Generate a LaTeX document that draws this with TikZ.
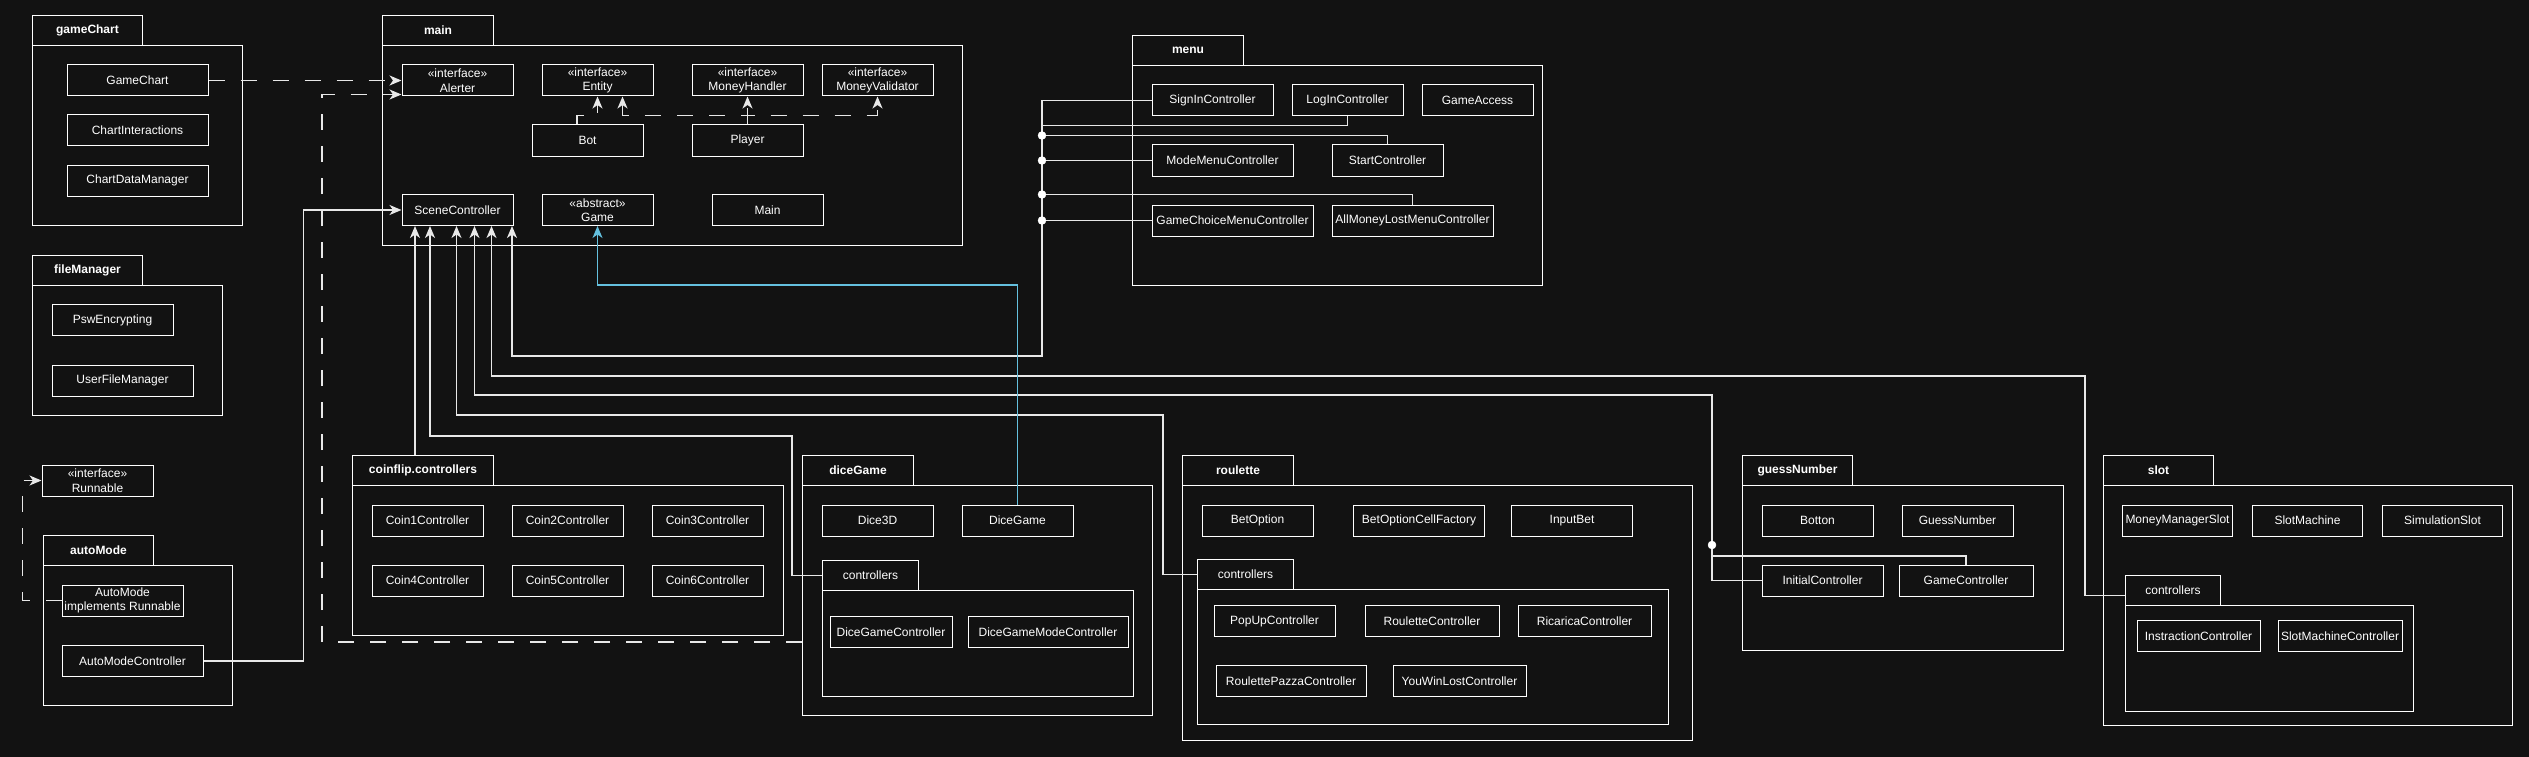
\documentclass[tikz,border=0pt]{standalone}
\usepackage{fontspec}
\setmainfont{Liberation Sans}
\usepackage{tikz}
\usepackage{color}
\usetikzlibrary{arrows.meta}

\definecolor{bgdark}{RGB}{18,18,18}
\definecolor{linegray}{RGB}{232,232,232}
\definecolor{linkblue}{RGB}{100,192,222}

\begin{document}
\begin{tikzpicture}[%
      x=1pt, y=-1pt,
      cls/.style={draw=white, fill=bgdark, text=white, line width=1pt, minimum width=111pt, minimum height=31pt, inner sep=0pt, align=center, font=\fontsize{12}{14.5}\selectfont},
      pkgtab/.style={draw=white, fill=bgdark, text=white, line width=1pt, minimum height=30pt, inner sep=0pt, anchor=north west, font=\bfseries\fontsize{12}{14}\selectfont},
      subtab/.style={pkgtab, font=\fontsize{12}{14}\selectfont},
      pkgbody/.style={draw=white, line width=1pt, inner sep=0pt, anchor=north west},
      conn/.style={color=linegray, line width=1.6pt},
      arr/.style={-{Stealth[length=12pt,width=10pt,inset=3.5pt]}},
      dep/.style={conn, arr, dash pattern=on 16pt off 16pt},
      ]
      \fill [color=bgdark] (0,0) rectangle (2529,757);

      \node [pkgbody, minimum width=210, minimum height=180] (gameChartBody) at (32,45) {};
      \node [pkgtab, minimum width=110] (gameChartTab) at (32,15) {gameChart};
      \node [pkgbody, minimum width=580, minimum height=200] (mainBody) at (382,45) {};
      \node [pkgtab, minimum width=111] (mainTab) at (382,15) {main};
      \node [pkgbody, minimum width=410, minimum height=220] (menuBody) at (1132,65) {};
      \node [pkgtab, minimum width=111] (menuTab) at (1132,35) {menu};
      \node [pkgbody, minimum width=190, minimum height=130] (fileBody) at (32,285) {};
      \node [pkgtab, minimum width=110] (fileTab) at (32,255) {fileManager};
      \node [pkgbody, minimum width=189, minimum height=140] (autoBody) at (43,565) {};
      \node [pkgtab, minimum width=110] (autoTab) at (43,535) {autoMode};
      \node [pkgbody, minimum width=431, minimum height=150] (coinBody) at (352,485) {};
      \node [pkgtab, minimum width=141] (coinTab) at (352,455) {coinflip.controllers};
      \node [pkgbody, minimum width=350, minimum height=230] (diceBody) at (802,485) {};
      \node [pkgtab, minimum width=111] (diceTab) at (802,455) {diceGame};
      \node [pkgbody, minimum width=311, minimum height=106] (diceCtrlBody) at (822,590) {};
      \node [subtab, minimum width=96] (diceCtrlTab) at (822,560) {controllers};
      \node [pkgbody, minimum width=510, minimum height=255] (rouBody) at (1182,485) {};
      \node [pkgtab, minimum width=111] (rouTab) at (1182,455) {roulette};
      \node [pkgbody, minimum width=471, minimum height=135] (rouCtrlBody) at (1197,589) {};
      \node [subtab, minimum width=96] (rouCtrlTab) at (1197,559) {controllers};
      \node [pkgbody, minimum width=321, minimum height=165] (guessBody) at (1742,485) {};
      \node [pkgtab, minimum width=110] (guessTab) at (1742,455) {guessNumber};
      \node [pkgbody, minimum width=409, minimum height=240] (slotBody) at (2103,485) {};
      \node [pkgtab, minimum width=110] (slotTab) at (2103,455) {slot};
      \node [pkgbody, minimum width=288, minimum height=106] (slotCtrlBody) at (2125,605) {};
      \node [subtab, minimum width=95] (slotCtrlTab) at (2125,575) {controllers};

      \node [cls, minimum width=141] (gameChartCls) at (137.5,80.5) {GameChart};
      \node [cls, minimum width=141] (chartInter) at (137.5,130.5) {ChartInteractions};
      \node [cls, minimum width=141] (chartData) at (137.5,180.5) {ChartDataManager};
      \node [cls, minimum width=121] (pswEnc) at (112.5,320) {PswEncrypting};
      \node [cls, minimum width=141] (userFile) at (122.5,380.5) {UserFileManager};

      \node [cls] (alerter) at (457.5,80.5) {«interface»\\Alerter};
      \node [cls] (entity) at (597.5,80.5) {«interface»\\Entity};
      \node [cls] (moneyHandler) at (747.5,80.5) {«interface»\\MoneyHandler};
      \node [cls] (moneyValidator) at (877.5,80.5) {«interface»\\MoneyValidator};
      \node [cls] (bot) at (587.5,140.5) {Bot};
      \node [cls] (player) at (747.5,140.5) {Player};
      \node [cls] (sceneCtrl) at (457.5,210) {SceneController};
      \node [cls] (game) at (597.5,210) {«abstract»\\Game};
      \node [cls] (mainCls) at (767.5,210) {Main};

      \node [cls, minimum width=121] (signIn) at (1212.5,100.5) {SignInController};
      \node [cls] (logIn) at (1347.5,100.5) {LogInController};
      \node [cls] (gameAccess) at (1477.5,100.5) {GameAccess};
      \node [cls, minimum width=141] (modeMenu) at (1222.5,160.5) {ModeMenuController};
      \node [cls] (startCtrl) at (1387.5,160.5) {StartController};
      \node [cls, minimum width=161] (gameChoice) at (1232.5,220.5) {GameChoiceMenuController};
      \node [cls, minimum width=161] (allMoney) at (1412.5,220.5) {AllMoneyLostMenuController};

      \node [cls] (runnable) at (97.5,480.5) {«interface»\\Runnable};
      \node [cls, minimum width=121] (autoModeCls) at (122.5,600.5) {AutoMode\\implements Runnable};
      \node [cls, minimum width=141] (autoModeCtrl) at (132.5,661) {AutoModeController};

      \node [cls] (coin1) at (427.5,520.5) {Coin1Controller};
      \node [cls] (coin2) at (567.5,520.5) {Coin2Controller};
      \node [cls] (coin3) at (707.5,520.5) {Coin3Controller};
      \node [cls] (coin4) at (427.5,580.5) {Coin4Controller};
      \node [cls] (coin5) at (567.5,580.5) {Coin5Controller};
      \node [cls] (coin6) at (707.5,580.5) {Coin6Controller};

      \node [cls] (dice3D) at (877.5,520.5) {Dice3D};
      \node [cls] (diceGameCls) at (1017.5,520.5) {DiceGame};
      \node [cls, minimum width=122] (diceCtrl) at (891,632) {DiceGameController};
      \node [cls, minimum width=160] (diceModeCtrl) at (1048,632) {DiceGameModeController};

      \node [cls] (betOption) at (1257.5,520.5) {BetOption};
      \node [cls, minimum width=131] (betCell) at (1419,520.5) {BetOptionCellFactory};
      \node [cls, minimum width=121] (inputBet) at (1572,520.5) {InputBet};
      \node [cls, minimum width=121] (popUp) at (1274.5,621) {PopUpController};
      \node [cls, minimum width=134] (rouletteCtrl) at (1432,621) {RouletteController};
      \node [cls, minimum width=133] (ricarica) at (1584.5,621) {RicaricaController};
      \node [cls, minimum width=150] (roulettePazza) at (1291,681) {RoulettePazzaController};
      \node [cls, minimum width=133] (youWin) at (1459.5,681) {YouWinLostController};

      \node [cls] (botton) at (1817.5,520.5) {Botton};
      \node [cls] (guessNum) at (1957.5,520.5) {GuessNumber};
      \node [cls, minimum width=121] (initialCtrl) at (1822.5,580.5) {InitialController};
      \node [cls, minimum width=134] (gameCtrl) at (1966,580.5) {GameController};

      \node [cls, minimum width=110] (moneyMgr) at (2177.5,520.5) {MoneyManagerSlot};
      \node [cls, minimum width=110] (slotMachine) at (2307.5,520.5) {SlotMachine};
      \node [cls, minimum width=120] (simulation) at (2442.5,520.5) {SimulationSlot};
      \node [cls, minimum width=123] (instraction) at (2198.5,636) {InstractionController};
      \node [cls, minimum width=124] (slotMachineCtrl) at (2340,636) {SlotMachineController};

      \coordinate (sc1) at ([xshift=13.5]sceneCtrl.south west);
      \coordinate (sc2) at ([xshift=28.5]sceneCtrl.south west);
      \coordinate (sc3) at ([xshift=55]sceneCtrl.south west);
      \coordinate (sc4) at ([xshift=73]sceneCtrl.south west);
      \coordinate (sc5) at ([xshift=90]sceneCtrl.south west);
      \coordinate (sc6) at ([xshift=110.5]sceneCtrl.south west);
      \coordinate (dgAlert) at (802,642);

      \draw [dep] (gameChartCls.east) -- (alerter.west);
      \draw [dep] (dgAlert) -| (322,94.5) -- ([yshift=2]alerter.south west);
      \draw [dep] (autoModeCls.west) -- ++(-39,0) |- (runnable.west);
      \draw [dep] ([xshift=-10.5]bot.north) -- ++(0,-9) -| (entity.south);
      \draw [dep] (player.north) -- ++(0,-9) -| ([xshift=25]entity.south);
      \draw [dep] (player.north) -- (moneyHandler.south);
      \draw [dep] (player.north) -- ++(0,-9) -| (moneyValidator.south);

      \draw [conn, arr] (autoModeCtrl.east) -- ++(100,0) |- (sceneCtrl.west);
      \draw [conn, arr] (coinTab.north -| sc1) -- (sc1);
      \draw [conn, arr] (diceCtrlTab.west) -| (792,436) -| (sc2);
      \draw [conn, arr] (rouCtrlTab.west) -| (1163,415) -| (sc3);
      \draw [conn, arr] (initialCtrl.west) -| (1712,395) -| (sc4);
      \draw [conn, arr] ([yshift=-5]slotCtrlTab.west) -| (2085,376) -| (sc5);
      \draw [conn, arr] (signIn.west) -| (1042,356) -| (sc6);

      \draw [conn] (gameCtrl.north) |- (1712,556);
      \draw [conn] (logIn.south) |- (1042,125.5);
      \draw [conn] (startCtrl.north) |- (1042,135.5);
      \draw [conn] (modeMenu.west) -- (1042,160.5);
      \draw [conn] (allMoney.north) |- (1042,194.5);
      \draw [conn] (gameChoice.west) -- (1042,220.5);

      \filldraw [color=white] (1712,545) circle (4pt);
      \filldraw [color=white] (1042,135.5) circle (4pt);
      \filldraw [color=white] (1042,160.5) circle (4pt);
      \filldraw [color=white] (1042,194.5) circle (4pt);
      \filldraw [color=white] (1042,220.5) circle (4pt);

      \draw [color=linkblue, line width=1.6pt, arr] (diceGameCls.north) -- ++(0,-219.5) -| (game.south);
      \end{tikzpicture}
\end{document}
